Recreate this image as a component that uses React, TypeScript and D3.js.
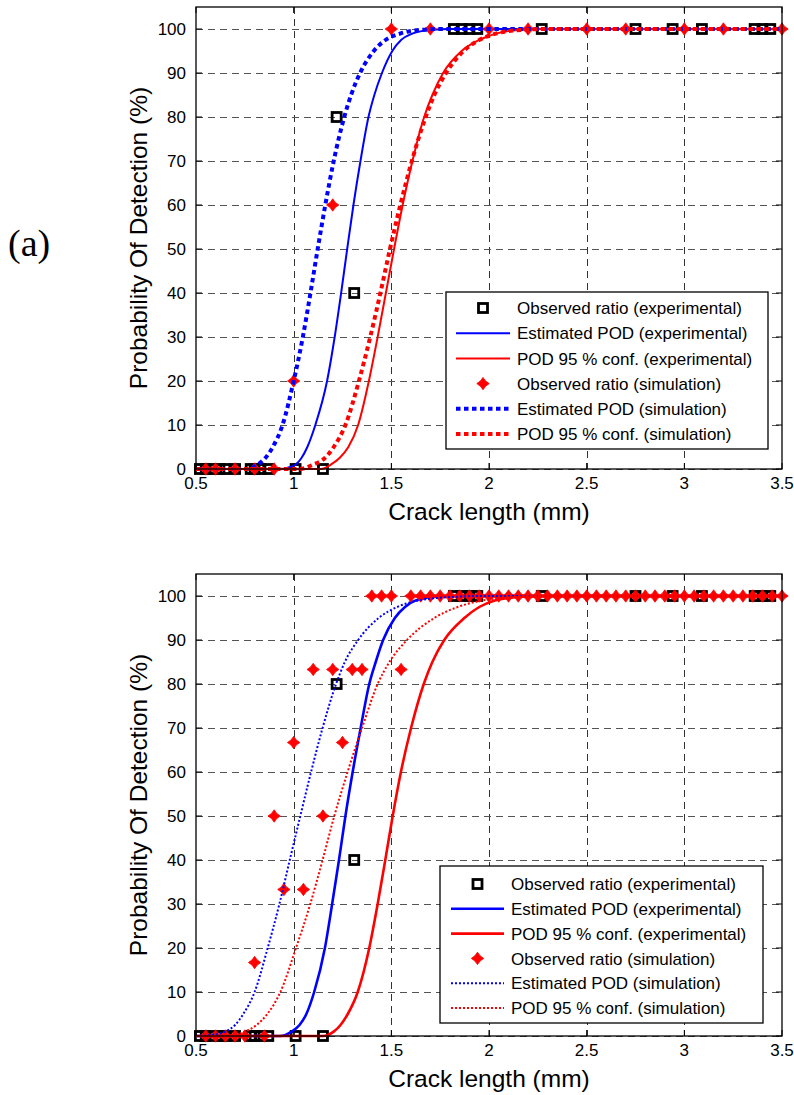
import * as d3 from "d3";

const xTicks = [0.5, 1, 1.5, 2, 2.5, 3, 3.5];
const yTicks = [0, 10, 20, 30, 40, 50, 60, 70, 80, 90, 100];

// experimental observed ratio (same in both panels)
const expX = [0.52, 0.55, 0.58, 0.62, 0.65, 0.7, 0.78, 0.8, 0.83, 0.87, 1.01, 1.15, 1.22, 1.31, 1.82, 1.86, 1.9, 1.94, 2.27, 2.75, 2.94, 3.09, 3.36, 3.4, 3.44];
const expY = [0, 0, 0, 0, 0, 0, 0, 0, 0, 0, 0, 0, 80, 40, 100, 100, 100, 100, 100, 100, 100, 100, 100, 100, 100];

// simulation observed ratio, panel (a)
const simXA = [0.55, 0.6, 0.7, 0.8, 0.9, 1.0, 1.2, 1.5, 1.7, 2.0, 2.2, 2.5, 2.7, 3.0, 3.2, 3.5];
const simYA = [0, 0, 0, 0, 0, 20, 60, 100, 100, 100, 100, 100, 100, 100, 100, 100];

// simulation observed ratio, panel (b)
const simXB = [0.55, 0.6, 0.65, 0.7, 0.75, 0.8, 0.85, 0.9, 0.95, 1.0, 1.05, 1.1, 1.15, 1.2, 1.25, 1.3, 1.35, 1.4, 1.45, 1.5, 1.55, 1.6, 1.65, 1.7, 1.75, 1.8, 1.85, 1.9, 1.95, 2.0, 2.05, 2.1, 2.15, 2.2, 2.25, 2.3, 2.35, 2.4, 2.45, 2.5, 2.55, 2.6, 2.65, 2.7, 2.75, 2.8, 2.85, 2.9, 2.95, 3.0, 3.05, 3.1, 3.15, 3.2, 3.25, 3.3, 3.35, 3.4, 3.45, 3.5];
const simYB = [0, 0, 0, 0, 0, 16.7, 0, 50, 33.3, 66.7, 33.3, 83.3, 50, 83.3, 66.7, 83.3, 83.3, 100, 100, 100, 83.3, 100, 100, 100, 100, 100, 100, 100, 100, 100, 100, 100, 100, 100, 100, 100, 100, 100, 100, 100, 100, 100, 100, 100, 100, 100, 100, 100, 100, 100, 100, 100, 100, 100, 100, 100, 100, 100, 100, 100];

// curves
const podExpA: [number, number][] = [[0.5, 0], [0.93, 0], [0.97, 0.3], [1.01, 1], [1.04, 2.5], [1.07, 5], [1.111, 10], [1.171, 20], [1.21, 30], [1.243, 40], [1.274, 50], [1.306, 60], [1.342, 70], [1.383, 80], [1.413, 85], [1.452, 90], [1.505, 95], [1.55, 97.5], [1.61, 99], [1.7, 99.8], [1.8, 100], [3.5, 100]];
const confExpA: [number, number][] = [[0.5, 0], [1.14, 0], [1.19, 1], [1.235, 2.5], [1.28, 5], [1.33, 10], [1.385, 20], [1.43, 30], [1.472, 40], [1.514, 50], [1.558, 60], [1.608, 70], [1.668, 80], [1.71, 85], [1.765, 90], [1.86, 95], [1.95, 97.5], [2.04, 99], [2.15, 99.8], [2.25, 100], [3.5, 100]];
const podSimA: [number, number][] = [[0.5, 0], [0.76, 0], [0.815, 1], [0.855, 2.5], [0.893, 5], [0.943, 10], [1.0, 20], [1.047, 30], [1.086, 40], [1.123, 50], [1.162, 60], [1.205, 70], [1.259, 80], [1.294, 85], [1.34, 90], [1.41, 95], [1.47, 97.5], [1.548, 99], [1.65, 99.8], [1.75, 100], [3.5, 100]];
const confSimA: [number, number][] = [[0.5, 0], [1.03, 0], [1.1, 1], [1.16, 2.5], [1.205, 5], [1.265, 10], [1.334, 20], [1.392, 30], [1.444, 40], [1.493, 50], [1.546, 60], [1.605, 70], [1.676, 80], [1.72, 85], [1.78, 90], [1.87, 95], [1.95, 97.5], [2.04, 99], [2.17, 99.8], [2.3, 100], [3.5, 100]];

// curves
const podExpB: [number, number][] = [[0.5, 0], [0.93, 0], [0.99, 1], [1.03, 2.5], [1.065, 5], [1.105, 10], [1.16, 20], [1.197, 30], [1.232, 40], [1.265, 50], [1.302, 60], [1.343, 70], [1.387, 80], [1.42, 85], [1.458, 90], [1.518, 95], [1.57, 97.5], [1.625, 99], [1.72, 99.8], [1.82, 100], [3.5, 100]];
const confExpB: [number, number][] = [[0.5, 0], [1.15, 0], [1.205, 1], [1.24, 2.5], [1.277, 5], [1.328, 10], [1.387, 20], [1.43, 30], [1.469, 40], [1.507, 50], [1.549, 60], [1.601, 70], [1.666, 80], [1.71, 85], [1.771, 90], [1.874, 95], [1.95, 97.5], [2.03, 99], [2.15, 99.8], [2.3, 100], [3.5, 100]];
const podSimB: [number, number][] = [[0.5, 0], [0.57, 0.2], [0.65, 1], [0.7, 2.5], [0.742, 5], [0.8, 10], [0.867, 20], [0.927, 30], [0.98, 40], [1.034, 50], [1.089, 60], [1.148, 70], [1.217, 80], [1.262, 85], [1.33, 90], [1.435, 95], [1.53, 97.5], [1.64, 99], [1.82, 99.8], [1.95, 100], [3.5, 100]];
const confSimB: [number, number][] = [[0.5, 0], [0.66, 0], [0.75, 1], [0.81, 2.5], [0.865, 5], [0.932, 10], [1.012, 20], [1.085, 30], [1.148, 40], [1.208, 50], [1.276, 60], [1.35, 70], [1.43, 80], [1.49, 85], [1.58, 90], [1.72, 95], [1.84, 97.5], [1.97, 99], [2.15, 99.8], [2.3, 100], [3.5, 100]];

const legendLabels = [
  "Observed ratio (experimental)",
  "Estimated POD (experimental)",
  "POD 95 % conf. (experimental)",
  "Observed ratio (simulation)",
  "Estimated POD (simulation)",
  "POD 95 % conf. (simulation)",
];

const SANS = "'Liberation Sans', Arial, Helvetica, sans-serif";
const BLUE = "#0000ff";
const RED = "#ff0000";

function Square({ cx, cy }: { cx: number; cy: number }) {
  return <rect x={cx - 4.5} y={cy - 4.5} width={9} height={9} fill="none" stroke="#000" strokeWidth={2.8} />;
}

function Star({ cx, cy }: { cx: number; cy: number }) {
  const o = 6.2;
  const i = 2.6;
  const pts = [[0, -o], [i, -i], [o, 0], [i, i], [0, o], [-i, i], [-o, 0], [-i, -i]]
    .map((p) => `${cx + p[0]},${cy + p[1]}`)
    .join(" ");
  return <polygon points={pts} fill={RED} stroke={RED} strokeWidth={0.8} />;
}

type PanelProps = {
  top: number;
  bottom: number;
  thick: boolean;
  simX: number[];
  simY: number[];
  podExp: [number, number][];
  confExp: [number, number][];
  podSim: [number, number][];
  confSim: [number, number][];
  legend: { x0: number; y0: number; x1: number; y1: number; lineX0: number; lineX1: number; textX: number; row0: number; pitch: number };
};

function Panel(p: PanelProps) {
  const left = 196;
  const right = 782;
  const x = d3.scaleLinear().domain([0.5, 3.5]).range([left, right]);
  const y = d3.scaleLinear().domain([0, 105]).range([p.bottom, p.top]);
  const line = d3
    .line<[number, number]>()
    .x((d) => x(d[0]))
    .y((d) => y(d[1]))
    .curve(d3.curveMonotoneX);

  const solidW = p.thick ? 2 : 2.6;
  const dotW = p.thick ? 4 : 2;
  const dotDash = p.thick ? "4.5 3.5" : "2 2";
  const tick = 6;
  const lg = p.legend;
  const rowY = (k: number) => lg.row0 + k * lg.pitch;
  const midX = (lg.lineX0 + lg.lineX1) / 2;

  return (
    <g>
      {/* grid */}
      {xTicks.slice(1, -1).map((t) => (
        <line key={"gx" + t} x1={Math.round(x(t)) + 0.5} x2={Math.round(x(t)) + 0.5} y1={p.top} y2={p.bottom} stroke="#333" strokeWidth={1} strokeDasharray="7 5" />
      ))}
      {yTicks.map((t) => (
        <line key={"gy" + t} x1={left} x2={right} y1={Math.round(y(t)) + 0.5} y2={Math.round(y(t)) + 0.5} stroke="#555" strokeWidth={1} strokeDasharray="7 5" />
      ))}

      {/* ticks, inside on all four sides */}
      {xTicks.map((t) => (
        <g key={"tx" + t}>
          <line x1={x(t)} x2={x(t)} y1={p.bottom} y2={p.bottom - tick} stroke="#000" />
          <line x1={x(t)} x2={x(t)} y1={p.top} y2={p.top + tick} stroke="#000" />
          <text x={x(t)} y={p.bottom + 20} textAnchor="middle" fontFamily={SANS} fontSize={17}>
            {t}
          </text>
        </g>
      ))}
      {yTicks.map((t) => (
        <g key={"ty" + t}>
          <line x1={left} x2={left + tick} y1={y(t)} y2={y(t)} stroke="#000" />
          <line x1={right} x2={right - tick} y1={y(t)} y2={y(t)} stroke="#000" />
          <text x={186} y={y(t)} dy="0.36em" textAnchor="end" fontFamily={SANS} fontSize={17}>
            {t}
          </text>
        </g>
      ))}

      {/* data, in plot order */}
      {expX.map((v, k) => (
        <Square key={"sq" + k} cx={x(v)} cy={y(expY[k])} />
      ))}
      <path d={line(p.podExp) ?? ""} fill="none" stroke={BLUE} strokeWidth={solidW} />
      <path d={line(p.confExp) ?? ""} fill="none" stroke={RED} strokeWidth={solidW} />
      {p.simX.map((v, k) => (
        <Star key={"st" + k} cx={x(v)} cy={y(p.simY[k])} />
      ))}
      <path d={line(p.podSim) ?? ""} fill="none" stroke={BLUE} strokeWidth={dotW} strokeDasharray={dotDash} />
      <path d={line(p.confSim) ?? ""} fill="none" stroke={RED} strokeWidth={dotW} strokeDasharray={dotDash} />

      {/* frame */}
      <rect x={left} y={p.top} width={right - left} height={p.bottom - p.top} fill="none" stroke="#000" strokeWidth={1.3} />

      {/* axis labels */}
      <text x={(left + right) / 2} y={p.bottom + 51} textAnchor="middle" fontFamily={SANS} fontSize={24.5}>
        Crack length (mm)
      </text>
      <text transform={`translate(147,${(p.top + p.bottom) / 2}) rotate(-90)`} textAnchor="middle" fontFamily={SANS} fontSize={24.5}>
        Probability Of Detection (%)
      </text>

      {/* legend */}
      <rect x={lg.x0} y={lg.y0} width={lg.x1 - lg.x0} height={lg.y1 - lg.y0} fill="#fff" stroke="#000" strokeWidth={1.3} />
      <Square cx={midX} cy={rowY(0)} />
      <line x1={lg.lineX0} x2={lg.lineX1} y1={rowY(1)} y2={rowY(1)} stroke={BLUE} strokeWidth={solidW} />
      <line x1={lg.lineX0} x2={lg.lineX1} y1={rowY(2)} y2={rowY(2)} stroke={RED} strokeWidth={solidW} />
      <Star cx={midX} cy={rowY(3)} />
      <line x1={lg.lineX0} x2={lg.lineX1} y1={rowY(4)} y2={rowY(4)} stroke={BLUE} strokeWidth={dotW} strokeDasharray={dotDash} />
      <line x1={lg.lineX0} x2={lg.lineX1} y1={rowY(5)} y2={rowY(5)} stroke={RED} strokeWidth={dotW} strokeDasharray={dotDash} />
      {legendLabels.map((s, k) => (
        <text key={"lg" + k} x={lg.textX} y={rowY(k)} dy="0.36em" fontFamily={SANS} fontSize={17}>
          {s}
        </text>
      ))}
    </g>
  );
}

export default function App() {
  return (
    <svg width={794} height={1095} style={{ position: "absolute", left: 0, top: 0, background: "#fff" }}>
      <rect x={0} y={0} width={794} height={1095} fill="#fff" />
      <text x={8} y={256} fontFamily="'Liberation Serif', 'Times New Roman', serif" fontSize={38}>
        (a)
      </text>
      <Panel
        top={7}
        bottom={469}
        thick={true}
        simX={simXA}
        simY={simYA}
        podExp={podExpA}
        confExp={confExpA}
        podSim={podSimA}
        confSim={confSimA}
        legend={{ x0: 446, y0: 292, x1: 768, y1: 449, lineX0: 456, lineX1: 510, textX: 517, row0: 308, pitch: 25.2 }}
      />
      <Panel
        top={574}
        bottom={1036}
        thick={false}
        simX={simXB}
        simY={simYB}
        podExp={podExpB}
        confExp={confExpB}
        podSim={podSimB}
        confSim={confSimB}
        legend={{ x0: 440, y0: 866, x1: 763, y1: 1023, lineX0: 451, lineX1: 504, textX: 511, row0: 884, pitch: 24.8 }}
      />
    </svg>
  );
}
